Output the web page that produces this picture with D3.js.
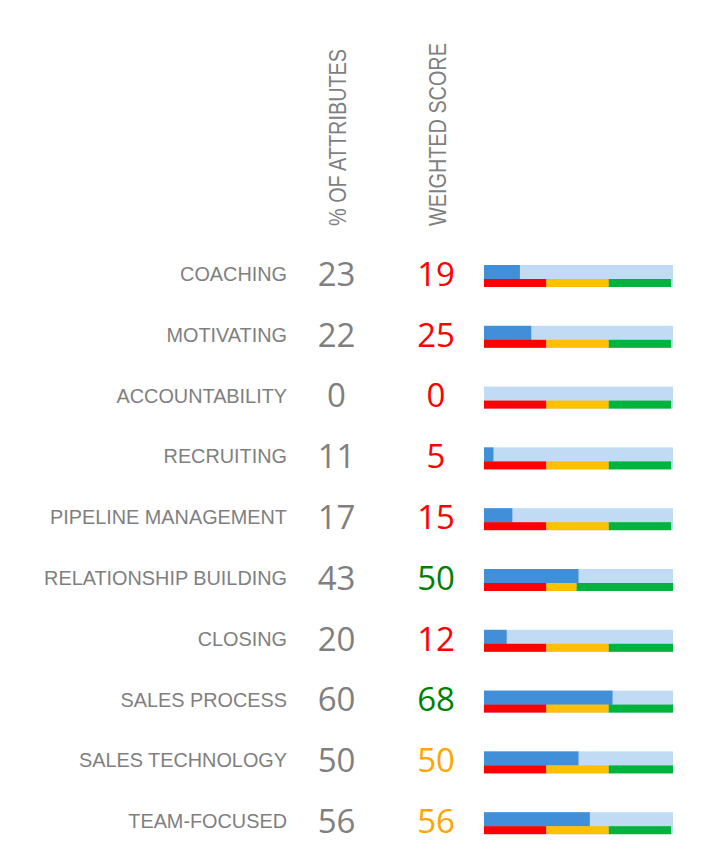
<!DOCTYPE html>
<html>
<head>
<meta charset="utf-8">
<script src="https://cdn.jsdelivr.net/npm/d3@7"></script>
<style>
  html, body { margin: 0; padding: 0; background: #ffffff; }
  svg { display: block; }
</style>
</head>
<body>
<svg id="chart" width="720" height="862"></svg>
<script>
// ---- data ----
const categories = ["COACHING", "MOTIVATING", "ACCOUNTABILITY", "RECRUITING", "PIPELINE MANAGEMENT",
  "RELATIONSHIP BUILDING", "CLOSING", "SALES PROCESS", "SALES TECHNOLOGY", "TEAM-FOCUSED"];
const pctAttributes = [23, 22, 0, 11, 17, 43, 20, 60, 50, 56];
const weightedScore = [19, 25, 0, 5, 15, 50, 12, 68, 50, 56];
const lowThreshold = [33, 33, 33, 33, 33, 33, 33, 33, 33, 33];
const highThreshold = [66, 66, 66, 66, 66, 49, 66, 66, 66, 66];
const bandMax = [99, 99, 99, 99, 99, 100, 100, 100, 100, 99];
const headers = ["% OF ATTRIBUTES", "WEIGHTED SCORE"];

const rows = categories.map((c, i) => ({
  cat: c, pct: pctAttributes[i], score: weightedScore[i],
  low: lowThreshold[i], high: highThreshold[i], max: bandMax[i]
}));

// ---- layout ----
const svg = d3.select("#chart");
const y = d3.scaleBand().domain(categories).range([265, 265 + 10 * 60.8]).padding(0);
const x = d3.scaleLinear().domain([0, 100]).range([484, 673]);
const colX = d3.scalePoint().domain(headers).range([336.5, 436]);

const grey = "#7f7f7f";
const cRed = "#ff0000", cOrange = "#ffc000", cGreen = "#00b33c";
const txtRed = "#ff0000", txtOrange = "#ffa500", txtGreen = "#008000";
const blue = "#428fd9", lightBlue = "#c0dbf3";

function scoreColor(d) {
  if (d.score < d.low) return txtRed;
  if (d.score < d.high) return txtOrange;
  return txtGreen;
}

// headers (rotated, condensed)
svg.selectAll("text.header").data(headers).enter().append("text")
  .attr("class", "header")
  .attr("transform", h => `translate(${colX(h) + 9.5},226) rotate(-90) scale(0.81,1)`)
  .attr("font-family", "'Liberation Sans', Arial, sans-serif")
  .attr("font-size", 24.5)
  .attr("fill", grey)
  .text(h => h);

const g = svg.selectAll("g.row").data(rows).enter().append("g").attr("class", "row")
  .attr("transform", d => `translate(0,${y(d.cat)})`);

// category labels
g.append("text")
  .attr("transform", "translate(287,16) scale(0.945,1)")
  .attr("text-anchor", "end")
  .attr("font-family", "'Liberation Sans', Arial, sans-serif")
  .attr("font-size", 21)
  .attr("fill", grey)
  .text(d => d.cat);

// % of attributes
g.append("text")
  .attr("x", colX(headers[0]))
  .attr("y", 20.7)
  .attr("text-anchor", "middle")
  .attr("font-family", "'Open Sans', sans-serif")
  .attr("font-size", 33)
  .attr("fill", grey)
  .text(d => d.pct);

// weighted score
g.append("text")
  .attr("x", colX(headers[1]))
  .attr("y", 20.7)
  .attr("text-anchor", "middle")
  .attr("font-family", "'Open Sans', sans-serif")
  .attr("font-size", 33)
  .attr("fill", scoreColor)
  .text(d => d.score);

// background bar
g.append("rect")
  .attr("x", x(0)).attr("y", 0)
  .attr("width", x(100) - x(0)).attr("height", 22)
  .attr("fill", lightBlue);

// score bar
g.append("rect")
  .attr("x", x(0)).attr("y", 0)
  .attr("width", d => x(d.score) - x(0)).attr("height", 14.3)
  .attr("fill", blue);

// threshold strip
const seg = d => [
  { a: 0, b: d.low, c: cRed },
  { a: d.low, b: d.high, c: cOrange },
  { a: d.high, b: d.max, c: cGreen }
];
g.selectAll("rect.seg").data(seg).enter().append("rect")
  .attr("class", "seg")
  .attr("x", s => x(s.a)).attr("y", 14)
  .attr("width", s => x(s.b) - x(s.a)).attr("height", 8)
  .attr("fill", s => s.c);
</script>
</body>
</html>
